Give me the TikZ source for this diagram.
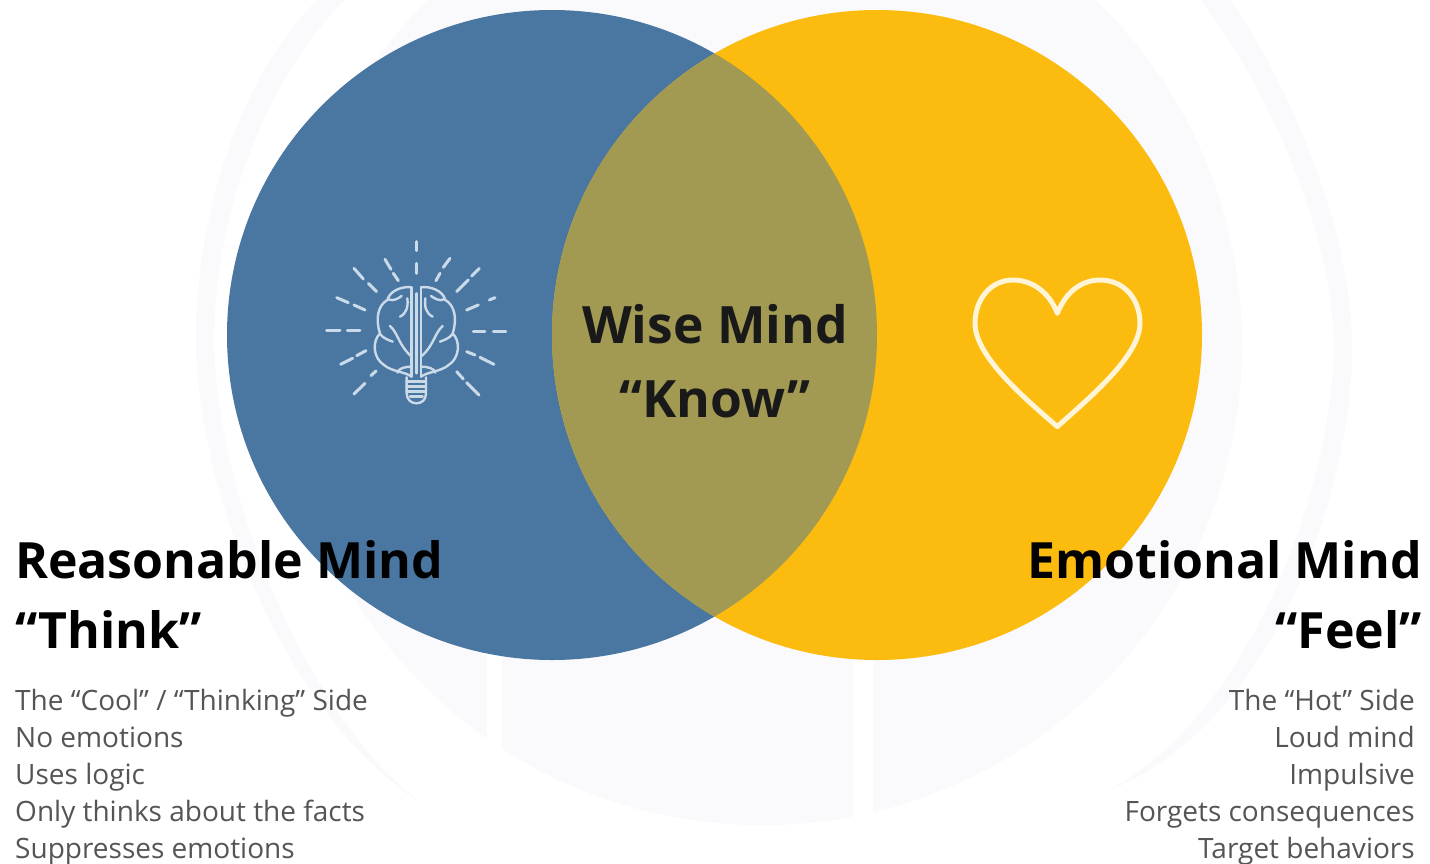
\documentclass[tikz,border=0pt]{standalone}
\usepackage{fontspec}
\setmainfont{Open Sans}
\definecolor{ccblue}{HTML}{4A77A2}
\definecolor{ccyellow}{HTML}{FBBC0F}
\definecolor{ccmix}{HTML}{A29A53}
\definecolor{ccwm}{HTML}{FAF9FC}
\definecolor{ccicon}{HTML}{CBDAE8}
\definecolor{ccheart}{HTML}{FFF5D6}
\definecolor{ccbody}{HTML}{555555}
\tikzset{
  headtext/.style={inner sep=0pt,font=\fontsize{50}{50}\selectfont\bfseries,text=black},
  wisetext/.style={inner sep=0pt,font=\fontsize{51.5}{52}\selectfont\bfseries,text=black!90},
  bodytext/.style={inner sep=0pt,font=\fontsize{28}{28}\selectfont,text=ccbody},
  iconline/.style={draw=ccicon,line width=2.4pt,line cap=round,line join=round},
  rayline/.style={draw=ccicon,line width=3pt,line cap=round}
}
\begin{document}
\begin{tikzpicture}[x=1pt,y=-1pt]
\useasboundingbox (0,0) rectangle (1430,863);
\fill[white] (0,0) rectangle (1430,863);
% faint watermark
\begin{scope}
\clip (0,0) rectangle (1430,863);
\fill[ccwm] (762,345) ellipse [x radius=480,y radius=480];
\fill[white] (487,640) rectangle (502,760);
\fill[white] (853,640) rectangle (873,840);
\fill[ccwm] (1227,-5) .. controls (1290,85) and (1352,230) .. (1352,350)
  .. controls (1352,480) and (1280,720) .. (1110,790)
  .. controls (1262,705) and (1332,470) .. (1334,350)
  .. controls (1334,235) and (1270,90) .. (1197,-5) -- cycle;
\fill[ccwm] (323,-5) .. controls (250,60) and (196,200) .. (196,340)
  .. controls (198,500) and (290,720) .. (420,802)
  .. controls (310,720) and (216,500) .. (214,340)
  .. controls (214,210) and (270,70) .. (350,-5) -- cycle;
\end{scope}
% circles
\coordinate (cl) at (552,335);
\coordinate (cr) at (877,335);
\fill[ccblue] (cl) circle [radius=325];
\fill[ccyellow] (cr) circle [radius=325];
\begin{scope}
\clip (cl) circle [radius=325];
\fill[ccmix] (cr) circle [radius=325];
\end{scope}
% brain bulb icon
\begin{scope}[shift={(310,230)},x=0.3333pt,y=-0.3333pt]
\foreach \a/\b/\c/\d in {320/35/320/62,320/100/320/130,225/88/243/118,250/130/265/152,
 132/115/160/147,175/160/200/185,80/203/115/218,132/225/165/240,50/303/90/303,112/303/150/303,
 92/403/128/385,140/377/168/362,132/492/165/460,183/437/198/423,378/152/390/130,400/112/420/85,
 440/185/475/150,485/138/508/115,470/240/505/225,538/210/555/203,490/305/525/305,550/305/588/305,
 470/365/495/375,510/382/552/403,440/425/460/447,470/458/507/495}
  \draw[rayline] (\a,\b) -- (\c,\d);
\draw[iconline] (305,172) -- (305,440) (333,172) -- (333,440) (319,190) -- (319,430);
\foreach \mx/\sx in {0/1,638/-1}{
 \begin{scope}[shift={(\mx,0)},xscale=\sx]
 \draw[iconline] (305,172) .. controls (280,168) and (240,180) .. (232,210)
   .. controls (205,225) and (195,265) .. (210,310)
   .. controls (185,335) and (190,385) .. (222,405)
   .. controls (245,425) and (285,425) .. (305,440);
 \draw[iconline] (235,208) .. controls (250,215) and (265,205) .. (275,198);
 \draw[iconline] (292,205) .. controls (295,230) and (290,250) .. (270,260);
 \draw[iconline] (240,288) .. controls (265,310) and (265,345) .. (305,380);
 \draw[iconline] (210,312) .. controls (220,325) and (235,330) .. (248,335);
 \draw[iconline] (262,428) .. controls (265,415) and (285,410) .. (305,410);
 \end{scope}
}
\draw[iconline] (290,442) -- (290,490) .. controls (290,510) and (305,520) .. (319,520)
  .. controls (335,520) and (348,510) .. (348,490) -- (348,442);
\foreach \yy in {455,470,485}
  \draw[iconline] (290,\yy) -- (348,\yy);
\draw[iconline] (300,500) -- (338,500);
\end{scope}
% heart
\begin{scope}[shift={(950,260)},x=0.3333pt,y=-0.3333pt]
\draw[draw=ccheart,line width=5pt,line join=round]
  (322,160) .. controls (295,90) and (240,60) .. (190,60)
  .. controls (120,60) and (75,120) .. (75,190)
  .. controls (75,290) and (230,420) .. (322,500)
  .. controls (410,420) and (570,290) .. (570,190)
  .. controls (570,120) and (525,60) .. (450,60)
  .. controls (400,60) and (350,90) .. (322,160) -- cycle;
\end{scope}
% texts
\node[wisetext,anchor=base] (wise) at (715,343) {Wise Mind};
\node[wisetext,anchor=base] (know) at (715,417) {“Know”};
\node[headtext,anchor=base west] (rm) at (15,578) {Reasonable Mind};
\node[headtext,anchor=base west] (th) at (15,648) {“Think”};
\node[headtext,anchor=base east] (em) at (1422,578) {Emotional Mind};
\node[headtext,anchor=base east] (fe) at (1422,648) {“Feel”};
\node[bodytext,anchor=base west] (l1) at (15,710) {The “Cool” / “Thinking” Side};
\node[bodytext,anchor=base west] (l2) at (15,747) {No emotions};
\node[bodytext,anchor=base west] (l3) at (15,784) {Uses logic};
\node[bodytext,anchor=base west] (l4) at (15,821) {Only thinks about the facts};
\node[bodytext,anchor=base west] (l5) at (15,858) {Suppresses emotions};
\node[bodytext,anchor=base east] (r1) at (1415,710) {The “Hot” Side};
\node[bodytext,anchor=base east] (r2) at (1415,747) {Loud mind};
\node[bodytext,anchor=base east] (r3) at (1415,784) {Impulsive};
\node[bodytext,anchor=base east] (r4) at (1415,821) {Forgets consequences};
\node[bodytext,anchor=base east] (r5) at (1415,858) {Target behaviors};
\end{tikzpicture}
\end{document}
